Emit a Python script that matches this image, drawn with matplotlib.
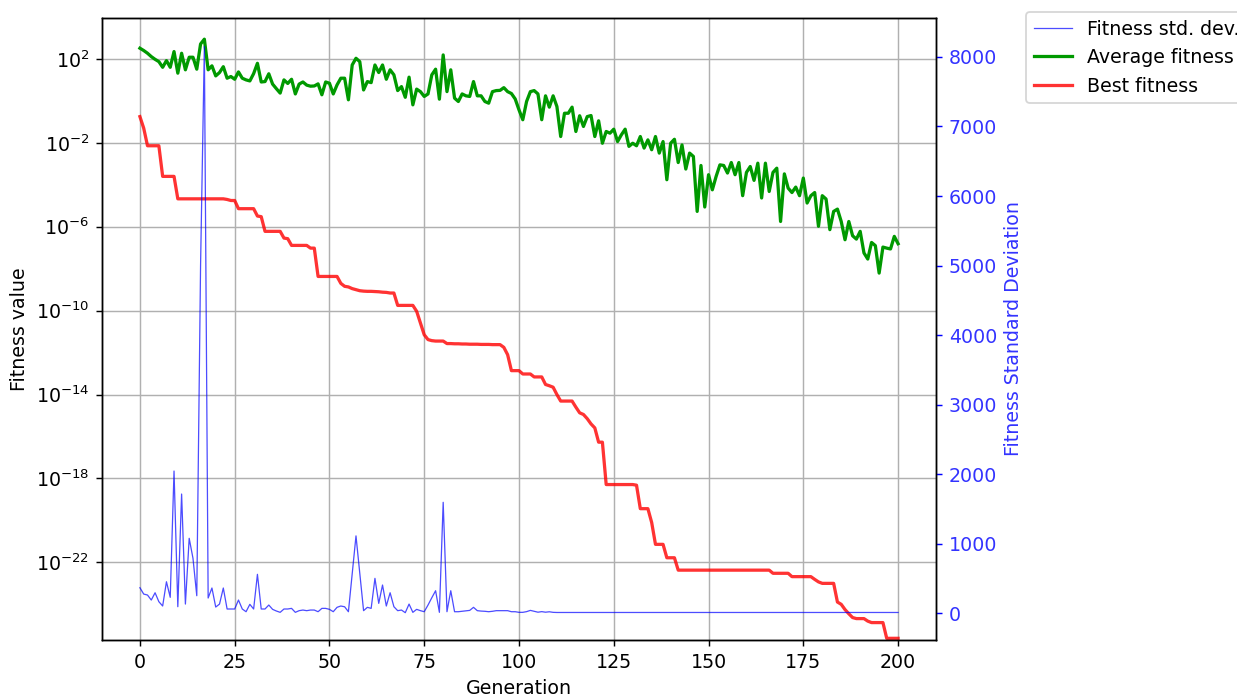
import numpy as np
import matplotlib
matplotlib.use("Agg")
import matplotlib.pyplot as plt
from matplotlib.ticker import NullLocator

plt.rcParams["font.size"] = 10.5

# generations 0..200
generations = np.arange(201)

# average fitness per generation (log10)
avg_fitness_log10 = [
    2.51, 2.40, 2.27, 2.11, 1.98, 1.87, 1.60, 1.92, 1.60, 2.35,
    1.32, 2.27, 1.48, 2.08, 2.08, 1.51, 2.71, 2.94, 1.48, 1.67,
    1.19, 1.35, 1.63, 1.08, 1.16, 1.03, 1.38, 1.08, 1.00, 0.95,
    1.30, 1.79, 0.90, 0.92, 1.29, 0.80, 0.58, 0.37, 1.00, 0.83,
    1.03, 0.33, 0.80, 0.90, 0.75, 0.70, 0.71, 0.81, 0.29, 0.90,
    0.84, 0.33, 0.76, 1.08, 1.08, 0.05, 1.71, 2.03, 1.87, 0.52,
    0.92, 0.87, 1.71, 1.35, 1.71, 1.03, 1.48, 1.24, 0.49, 0.68,
    0.17, 1.13, -0.19, 0.56, 0.44, 0.21, 0.33, 1.24, 1.51, 0.08,
    2.19, 0.44, 1.48, 0.13, -0.03, 0.33, 0.24, 0.21, 0.92, 0.24,
    0.24, -0.03, -0.11, 0.44, 0.49, 0.50, 0.63, 0.44, 0.35, 0.09,
    -0.43, -0.90, -0.03, 0.44, 0.49, 0.33, -0.90, 0.24, -0.30, 0.24,
    -0.27, -1.70, -0.59, -0.59, -0.30, -1.46, -0.71, -1.22, -0.75, -0.70,
    -1.70, -0.95, -2.02, -1.46, -1.54, -1.35, -1.94, -1.62, -1.35, -2.17,
    -2.02, -2.14, -1.70, -2.25, -1.86, -2.33, -1.70, -2.49, -1.94, -3.76,
    -2.02, -1.83, -2.94, -2.10, -3.25, -2.49, -2.65, -5.27, -3.08, -5.06,
    -3.52, -4.24, -3.60, -3.05, -3.08, -3.44, -2.94, -3.52, -2.94, -4.52,
    -3.41, -3.13, -3.79, -2.97, -4.63, -2.97, -4.32, -3.41, -3.21, -5.75,
    -3.48, -4.16, -4.37, -4.11, -4.52, -3.68, -4.87, -4.52, -4.37, -5.98,
    -4.52, -4.68, -6.14, -5.27, -5.16, -5.75, -6.62, -5.75, -6.43, -6.59,
    -6.22, -7.25, -7.54, -6.75, -6.90, -8.21, -6.97, -7.02, -7.06, -6.46,
    -6.81,
]

# best fitness per generation (log10)
best_fitness_log10 = (
    [-0.75, -1.30] + [-2.14] * 4 + [-3.60] * 4 + [-4.67] * 13
    + [-4.70] + [-4.75] * 2 + [-5.14] * 5 + [-5.49, -5.52] + [-6.22] * 5
    + [-6.54, -6.57] + [-6.89] * 5 + [-7.02] * 2 + [-8.37] * 6
    + [-8.70, -8.84, -8.87, -8.95, -9.00, -9.05]
    + [-9.07, -9.08, -9.08, -9.09, -9.10, -9.12, -9.13, -9.16, -9.16]
    + [-9.75] * 5 + [-10.03, -10.59, -11.15, -11.38, -11.43] + [-11.45] * 3
    + [-11.57, -11.57, -11.58, -11.58, -11.59, -11.59, -11.60, -11.60,
       -11.60, -11.61, -11.61, -11.61, -11.62, -11.62, -11.62]
    + [-11.75, -12.10] + [-12.86] * 3 + [-13.02] * 3 + [-13.16] * 3
    + [-13.52, -13.58, -13.65, -14.00] + [-14.31] * 4
    + [-14.60, -14.87, -14.95, -15.15, -15.40, -15.59] + [-16.27] * 2
    + [-18.29] * 8 + [-18.32] + [-19.44] * 3 + [-20.10] + [-21.14] * 3
    + [-21.78] * 3 + [-22.37] * 25 + [-22.52] * 5 + [-22.68] * 6
    + [-22.81, -22.93] + [-23.00] * 4
    + [-23.89, -24.00, -24.25, -24.45, -24.63] + [-24.68] * 3
    + [-24.80] + [-24.87] * 4 + [-25.62] * 4
)

# standard deviation of fitness per generation
fitness_std = (
    [364, 273, 259, 187, 292, 163, 101, 450, 226, 2043,
     91, 1712, 129, 1075, 787, 249, 5000, 8150, 216, 360,
     86, 129, 360, 58, 58, 58, 187, 58, 19, 125,
     58, 557, 58, 58, 115, 53, 29, 10, 58, 58,
     67, 10, 34, 43, 34, 43, 43, 19, 67, 67,
     53, 19, 82, 101, 90, 19, 560, 1110, 570, 34,
     82, 67, 499, 139, 403, 101, 292, 91, 34, 43,
     5, 129, 10, 53, 34, 19, 115, 220, 321, 10,
     1593, 19, 321, 19, 19, 25, 30, 38, 82, 34,
     28, 25, 19, 25, 34, 34, 34, 34, 19, 19,
     10, 10, 20, 38, 25, 12, 20, 12, 18, 10]
    + [8] * 91
)

avg_fitness = 10.0 ** np.array(avg_fitness_log10)
best_fitness = 10.0 ** np.array(best_fitness_log10)

fig = plt.figure(figsize=(1237 / 130, 699 / 130), dpi=130)
ax = fig.add_axes([102 / 1237, 1 - 640 / 699, 834 / 1237, 622 / 699])
ax2 = ax.twinx()

# std dev on the right axis
l_std, = ax2.plot(generations, fitness_std, color="b", lw=0.7, alpha=0.7,
                  label="Fitness std. dev.")
ax2.set_ylabel("Fitness Standard Deviation", color="b", alpha=0.8)
ax2.tick_params(axis="y", colors="b", labelcolor="b")
for t in ax2.get_yticklabels():
    t.set_alpha(0.8)
ax2.set_ylim(-388, 8561)
ax2.set_yticks(range(0, 8001, 1000))

# fitness curves on log axis
l_avg, = ax.plot(generations, avg_fitness, color="#009900", lw=1.8,
                 label="Average fitness")
l_best, = ax.plot(generations, best_fitness, color="r", lw=1.8, alpha=0.8,
                  label="Best fitness")
ax.set_yscale("log")
ax.set_ylim(10 ** -25.7, 10 ** 3.95)
ax.set_yticks([10.0 ** e for e in range(2, -23, -4)])
ax.yaxis.set_minor_locator(NullLocator())
ax.set_xlim(-10, 210)
ax.set_xlabel("Generation")
ax.set_ylabel("Fitness value")
ax.grid(True)

fig.legend(handles=[l_std, l_avg, l_best], loc="upper left",
           bbox_to_anchor=(1026 / 1237, 1 - 12 / 699), borderaxespad=0)

fig.savefig("out.png", dpi=130)
